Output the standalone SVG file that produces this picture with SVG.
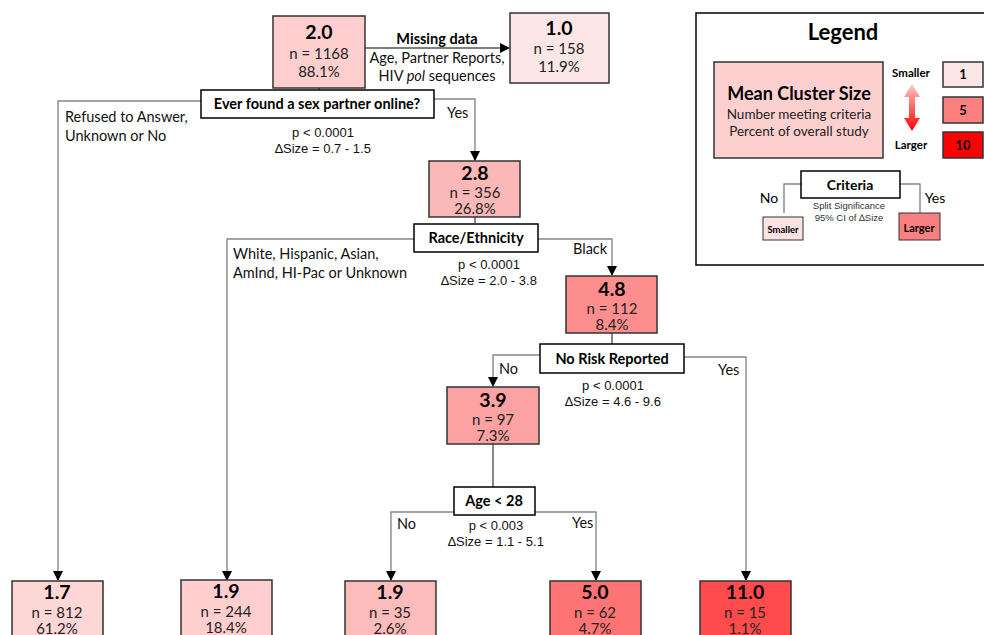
<svg xmlns="http://www.w3.org/2000/svg" width="984" height="635" viewBox="0 0 984 635">
<style>
.node{stroke:#333;stroke-width:1.5}
.dec{fill:#fff;stroke:#000;stroke-width:1.5}
.num{font-family:Lato,"Liberation Sans",sans-serif;font-weight:bold;font-size:19.5px;fill:#000;text-anchor:middle}
.sub{font-family:Lato,"Liberation Sans",sans-serif;font-size:15px;fill:#222;text-anchor:middle}
.dt{font-family:Lato,"Liberation Sans",sans-serif;font-weight:bold;font-size:14.5px;fill:#000;text-anchor:middle}
.lab{font-family:Lato,"Liberation Sans",sans-serif;font-size:14.5px;fill:#111}
.st{font-family:"Liberation Sans",Arial,sans-serif;font-size:13px;fill:#111;text-anchor:middle}
.conn{fill:none;stroke:#888;stroke-width:1.4}
.blk{fill:none;stroke:#555;stroke-width:1.4}
</style>
<defs>
<marker id="ah" markerWidth="10" markerHeight="10" refX="9" refY="5" orient="auto" markerUnits="userSpaceOnUse">
<path d="M0,0 L10,5 L0,10 z" fill="#000"/>
</marker>
<linearGradient id="rg" x1="0" y1="0" x2="0" y2="1">
<stop offset="0" stop-color="#ffc8c8"/>
<stop offset="1" stop-color="#ff0000"/>
</linearGradient>
</defs>

<g id="connectors">
<path class="blk" d="M365,48 H509" marker-end="url(#ah)"/>
<path class="blk" d="M319,88 V90"/>
<path class="conn" d="M201,101 H58 V580" marker-end="url(#ah)"/>
<path class="conn" d="M434,99 H475 V160" marker-end="url(#ah)"/>
<path class="blk" d="M475,217 V223"/>
<path class="conn" d="M414,239 H227 V580" marker-end="url(#ah)"/>
<path class="conn" d="M538,239 H612 V275" marker-end="url(#ah)"/>
<path class="blk" d="M612,333 V344"/>
<path class="conn" d="M540,355 H493 V386" marker-end="url(#ah)"/>
<path class="conn" d="M684,357 H746 V580" marker-end="url(#ah)"/>
<path class="blk" d="M493,444 V487"/>
<path class="conn" d="M454,512 H391 V580" marker-end="url(#ah)"/>
<path class="conn" d="M535,512 H596 V580" marker-end="url(#ah)"/>
</g>

<g id="edge-labels">
<text class="dt" x="437" y="44">Missing data</text>
<text class="lab" x="437" y="63" text-anchor="middle">Age, Partner Reports,</text>
<text class="lab" x="437" y="81" text-anchor="middle">HIV <tspan font-style="italic">pol</tspan> sequences</text>
<text class="lab" x="447" y="118">Yes</text>
<text class="lab" x="65" y="122">Refused to Answer,</text>
<text class="lab" x="65" y="141">Unknown or No</text>
<text class="st" x="323" y="137">p &lt; 0.0001</text>
<text class="st" x="323" y="153">∆Size = 0.7 - 1.5</text>
<text class="lab" x="573" y="254">Black</text>
<text class="lab" x="233" y="259">White, Hispanic, Asian,</text>
<text class="lab" x="233" y="278">AmInd, HI-Pac or Unknown</text>
<text class="st" x="489" y="269">p &lt; 0.0001</text>
<text class="st" x="489" y="285">∆Size = 2.0 - 3.8</text>
<text class="lab" x="499" y="374">No</text>
<text class="lab" x="718" y="375">Yes</text>
<text class="st" x="613" y="390">p &lt; 0.0001</text>
<text class="st" x="613" y="406">∆Size = 4.6 - 9.6</text>
<text class="lab" x="397" y="529">No</text>
<text class="lab" x="572" y="528">Yes</text>
<text class="st" x="496" y="530">p &lt; 0.003</text>
<text class="st" x="496" y="546">∆Size = 1.1 - 5.1</text>
</g>

<g id="n-root">
<rect class="node" x="273" y="16" width="92" height="72" fill="#ffcfcf"/>
<text class="num" x="319" y="39">2.0</text>
<text class="sub" x="319" y="59">n = 1168</text>
<text class="sub" x="319" y="77">88.1%</text>
</g>
<g id="n-missing">
<rect class="node" x="510" y="13" width="99" height="70" fill="#fde6e6"/>
<text class="num" x="559" y="35">1.0</text>
<text class="sub" x="559" y="54">n = 158</text>
<text class="sub" x="559" y="72">11.9%</text>
</g>
<g id="d-online">
<rect class="dec" x="201" y="90" width="233" height="28"/>
<text class="dt" x="317" y="109">Ever found a sex partner online?</text>
</g>
<g id="n-28">
<rect class="node" x="429" y="161" width="91" height="56" fill="#fbb8b8"/>
<text class="num" x="475" y="180">2.8</text>
<text class="sub" x="475" y="198">n = 356</text>
<text class="sub" x="475" y="214">26.8%</text>
</g>
<g id="d-race">
<rect class="dec" x="414" y="224" width="124" height="28"/>
<text class="dt" x="476" y="243">Race/Ethnicity</text>
</g>
<g id="n-48">
<rect class="node" x="566" y="276" width="91" height="57" fill="#fd8e8e"/>
<text class="num" x="612" y="296">4.8</text>
<text class="sub" x="612" y="314">n = 112</text>
<text class="sub" x="612" y="330">8.4%</text>
</g>
<g id="d-risk">
<rect class="dec" x="540" y="344" width="144" height="29"/>
<text class="dt" x="612" y="364">No Risk Reported</text>
</g>
<g id="n-39">
<rect class="node" x="447" y="387" width="92" height="57" fill="#fca2a2"/>
<text class="num" x="493" y="407">3.9</text>
<text class="sub" x="493" y="425">n = 97</text>
<text class="sub" x="493" y="441">7.3%</text>
</g>
<g id="d-age">
<rect class="dec" x="454" y="487" width="81" height="28"/>
<text class="dt" x="494" y="506">Age &lt; 28</text>
</g>
<g id="n-17">
<rect class="node" x="12" y="581" width="91" height="60" fill="#ffd6d6"/>
<text class="num" x="57" y="599">1.7</text>
<text class="sub" x="57" y="618">n = 812</text>
<text class="sub" x="57" y="634">61.2%</text>
</g>
<g id="n-19a">
<rect class="node" x="181" y="580" width="91" height="60" fill="#ffcfcf"/>
<text class="num" x="226" y="598">1.9</text>
<text class="sub" x="226" y="617">n = 244</text>
<text class="sub" x="226" y="633">18.4%</text>
</g>
<g id="n-19b">
<rect class="node" x="345" y="581" width="91" height="60" fill="#fdbcbc"/>
<text class="num" x="390" y="599">1.9</text>
<text class="sub" x="390" y="618">n = 35</text>
<text class="sub" x="390" y="634">2.6%</text>
</g>
<g id="n-50">
<rect class="node" x="550" y="581" width="91" height="60" fill="#ff7575"/>
<text class="num" x="595" y="599">5.0</text>
<text class="sub" x="595" y="618">n = 62</text>
<text class="sub" x="595" y="634">4.7%</text>
</g>
<g id="n-110">
<rect class="node" x="700" y="581" width="91" height="60" fill="#ff4b4b"/>
<text class="num" x="745" y="599">11.0</text>
<text class="sub" x="745" y="618">n = 15</text>
<text class="sub" x="745" y="634">1.1%</text>
</g>

<g id="legend">
<rect x="696" y="13" width="300" height="252" fill="#fff" stroke="#000" stroke-width="1.5"/>
<text x="843" y="40" font-family="Lato,'Liberation Sans',sans-serif" font-weight="bold" font-size="22" text-anchor="middle">Legend</text>
<rect class="node" x="714" y="62" width="169" height="96" fill="#fdd0d0"/>
<text x="799" y="100" font-family="Lato,'Liberation Sans',sans-serif" font-weight="bold" font-size="18" text-anchor="middle">Mean Cluster Size</text>
<text x="799" y="119" font-family="Lato,'Liberation Sans',sans-serif" font-size="13.5" text-anchor="middle" fill="#222">Number meeting criteria</text>
<text x="799" y="136" font-family="Lato,'Liberation Sans',sans-serif" font-size="13.5" text-anchor="middle" fill="#222">Percent of overall study</text>
<text x="911" y="77" font-family="Lato,'Liberation Sans',sans-serif" font-weight="bold" font-size="11.5" text-anchor="middle">Smaller</text>
<path d="M912,84 L920,97 L915,97 L915,118 L920,118 L912,131 L904,118 L909,118 L909,97 L904,97 z" fill="url(#rg)"/>
<text x="911" y="149" font-family="Lato,'Liberation Sans',sans-serif" font-weight="bold" font-size="11.5" text-anchor="middle">Larger</text>
<rect class="node" x="943" y="62" width="40" height="25" fill="#fde6e6"/>
<text x="963" y="79" font-family="Lato,'Liberation Sans',sans-serif" font-weight="bold" font-size="13" text-anchor="middle">1</text>
<rect class="node" x="943" y="97" width="40" height="26" fill="#fd8080"/>
<text x="963" y="115" font-family="Lato,'Liberation Sans',sans-serif" font-weight="bold" font-size="13" text-anchor="middle">5</text>
<rect class="node" x="943" y="132" width="40" height="26" fill="#ff0000"/>
<text x="963" y="150" font-family="Lato,'Liberation Sans',sans-serif" font-weight="bold" font-size="13" text-anchor="middle">10</text>
<path class="conn" d="M801,184 H784 V213"/>
<path class="conn" d="M900,184 H920 V213"/>
<rect class="dec" x="801" y="171" width="99" height="27"/>
<text x="850" y="190" font-family="Lato,'Liberation Sans',sans-serif" font-weight="bold" font-size="14" text-anchor="middle">Criteria</text>
<text x="769" y="203" font-family="Lato,'Liberation Sans',sans-serif" font-size="14" text-anchor="middle">No</text>
<text x="935" y="203" font-family="Lato,'Liberation Sans',sans-serif" font-size="14" text-anchor="middle">Yes</text>
<text x="849" y="209" font-family="'Liberation Sans',Arial,sans-serif" font-size="9.5" text-anchor="middle" fill="#333">Split Significance</text>
<text x="849" y="221" font-family="'Liberation Sans',Arial,sans-serif" font-size="9.5" text-anchor="middle" fill="#333">95% CI of ∆Size</text>
<rect x="763" y="217" width="40" height="23" fill="#fde2e2" stroke="#333" stroke-width="1"/>
<text x="783" y="233" font-family="Lato,'Liberation Sans',sans-serif" font-weight="bold" font-size="9.5" text-anchor="middle">Smaller</text>
<rect x="899" y="213" width="41" height="27" fill="#f88080" stroke="#333" stroke-width="1"/>
<text x="919" y="232" font-family="Lato,'Liberation Sans',sans-serif" font-weight="bold" font-size="11" text-anchor="middle">Larger</text>
</g>
</svg>
